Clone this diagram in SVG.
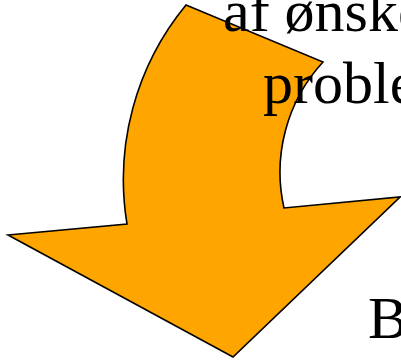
<svg xmlns="http://www.w3.org/2000/svg" width="401" height="361" viewBox="0 0 401 361">
<style>
.arrow{fill:#FFA500;stroke:#000;stroke-width:1.6;stroke-linejoin:miter}
.t{font-family:"Liberation Serif","Times New Roman",serif;font-size:60px;fill:#000}
</style>
<rect width="401" height="361" fill="#fff"/>
<g id="arrow">
<path class="arrow" d="M 186 5 L 323 62 A 162.7 162.7 0 0 0 284 208 L 400 197 L 233 357 L 8 235 L 127 224 A 274.6 274.6 0 0 1 186 5 Z"/>
</g>
<g id="label-top">
<text class="t" x="223" y="31">af ønsket</text>
<text class="t" x="263" y="103">problem</text>
</g>
<g id="label-bottom">
<text class="t" x="368" y="338">B</text>
</g>
</svg>
